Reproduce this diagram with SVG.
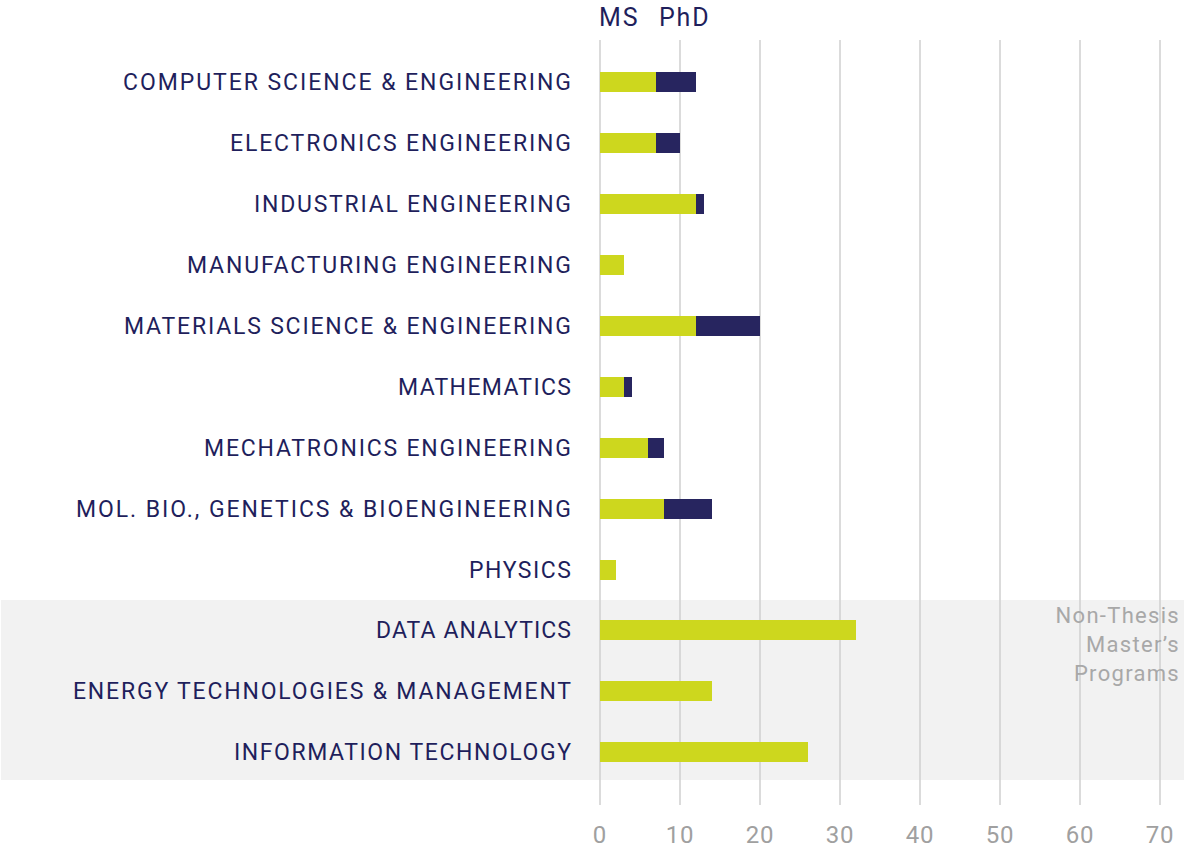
<svg xmlns="http://www.w3.org/2000/svg" width="1184" height="848" viewBox="0 0 1184 848">
<style>
.lbl{font-family:Roboto,"Liberation Sans",sans-serif;font-size:23px;fill:#1f1f5c;text-anchor:end}
.tick{font-family:Roboto,"Liberation Sans",sans-serif;font-size:24px;fill:#a0a0a0;text-anchor:middle;letter-spacing:0.8px}
.note{font-family:Roboto,"Liberation Sans",sans-serif;font-size:22px;fill:#a8a8a8;text-anchor:end;letter-spacing:1.3px}
.hdr{font-family:Roboto,"Liberation Sans",sans-serif;font-size:25px;fill:#1f1f5c;letter-spacing:1.8px}
.grid{stroke:#cfcfcf;stroke-width:1.5}
.ms{fill:#cdd71e}
.phd{fill:#27255f}
</style>
<rect x="1" y="600" width="1183" height="180" fill="#f2f2f2"/>
<g id="grid">
<line class="grid" x1="600" y1="40" x2="600" y2="805"/>
<line class="grid" x1="680" y1="40" x2="680" y2="805"/>
<line class="grid" x1="760" y1="40" x2="760" y2="805"/>
<line class="grid" x1="840" y1="40" x2="840" y2="805"/>
<line class="grid" x1="920" y1="40" x2="920" y2="805"/>
<line class="grid" x1="1000" y1="40" x2="1000" y2="805"/>
<line class="grid" x1="1080" y1="40" x2="1080" y2="805"/>
<line class="grid" x1="1160" y1="40" x2="1160" y2="805"/>
</g>
<g id="axis">
<text class="tick" x="600" y="843">0</text>
<text class="tick" x="680" y="843">10</text>
<text class="tick" x="760" y="843">20</text>
<text class="tick" x="840" y="843">30</text>
<text class="tick" x="920" y="843">40</text>
<text class="tick" x="1000" y="843">50</text>
<text class="tick" x="1080" y="843">60</text>
<text class="tick" x="1160" y="843">70</text>
</g>
<g id="legend">
<text class="hdr" x="599" y="26">MS</text>
<text class="hdr" x="659" y="26">PhD</text>
</g>
<g id="note">
<text class="note" x="1180" y="623">Non-Thesis</text>
<text class="note" x="1180" y="652">Master’s</text>
<text class="note" x="1180" y="681">Programs</text>
</g>
<g id="row-cse"><text class="lbl" x="571" y="90" textLength="448" lengthAdjust="spacing">COMPUTER SCIENCE &amp; ENGINEERING</text><rect class="ms" x="600" y="72" width="56" height="20"/><rect class="phd" x="656" y="72" width="40" height="20"/></g>
<g id="row-ee"><text class="lbl" x="571" y="151" textLength="341" lengthAdjust="spacing">ELECTRONICS ENGINEERING</text><rect class="ms" x="600" y="133" width="56" height="20"/><rect class="phd" x="656" y="133" width="24" height="20"/></g>
<g id="row-ie"><text class="lbl" x="571" y="212" textLength="317" lengthAdjust="spacing">INDUSTRIAL ENGINEERING</text><rect class="ms" x="600" y="194" width="96" height="20"/><rect class="phd" x="696" y="194" width="8" height="20"/></g>
<g id="row-mfg"><text class="lbl" x="571" y="273" textLength="384" lengthAdjust="spacing">MANUFACTURING ENGINEERING</text><rect class="ms" x="600" y="255" width="24" height="20"/></g>
<g id="row-mat"><text class="lbl" x="571" y="334" textLength="447" lengthAdjust="spacing">MATERIALS SCIENCE &amp; ENGINEERING</text><rect class="ms" x="600" y="316" width="96" height="20"/><rect class="phd" x="696" y="316" width="64" height="20"/></g>
<g id="row-math"><text class="lbl" x="571" y="395" textLength="173" lengthAdjust="spacing">MATHEMATICS</text><rect class="ms" x="600" y="377" width="24" height="20"/><rect class="phd" x="624" y="377" width="8" height="20"/></g>
<g id="row-mech"><text class="lbl" x="571" y="456" textLength="367" lengthAdjust="spacing">MECHATRONICS ENGINEERING</text><rect class="ms" x="600" y="438" width="48" height="20"/><rect class="phd" x="648" y="438" width="16" height="20"/></g>
<g id="row-bio"><text class="lbl" x="571" y="517" textLength="495" lengthAdjust="spacing">MOL. BIO., GENETICS &amp; BIOENGINEERING</text><rect class="ms" x="600" y="499" width="64" height="20"/><rect class="phd" x="664" y="499" width="48" height="20"/></g>
<g id="row-phys"><text class="lbl" x="571" y="578" textLength="102" lengthAdjust="spacing">PHYSICS</text><rect class="ms" x="600" y="560" width="16" height="20"/></g>
<g id="row-da"><text class="lbl" x="571" y="638" textLength="195" lengthAdjust="spacing">DATA ANALYTICS</text><rect class="ms" x="600" y="620" width="256" height="20"/></g>
<g id="row-etm"><text class="lbl" x="571" y="699" textLength="498" lengthAdjust="spacing">ENERGY TECHNOLOGIES &amp; MANAGEMENT</text><rect class="ms" x="600" y="681" width="112" height="20"/></g>
<g id="row-it"><text class="lbl" x="571" y="760" textLength="337" lengthAdjust="spacing">INFORMATION TECHNOLOGY</text><rect class="ms" x="600" y="742" width="208" height="20"/></g>
</svg>
